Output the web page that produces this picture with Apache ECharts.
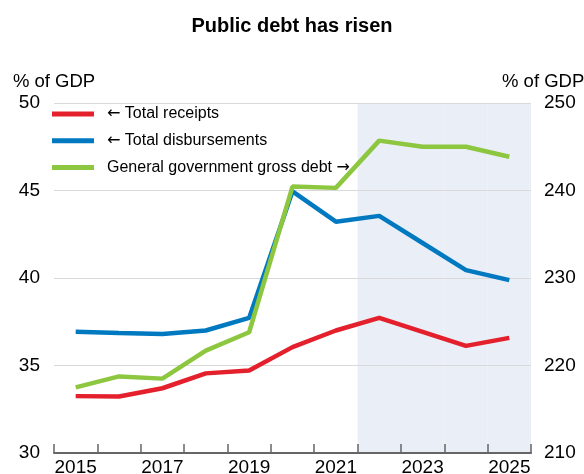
<!DOCTYPE html>
<html>
<head>
<meta charset="utf-8">
<script src="https://cdn.jsdelivr.net/npm/echarts@6/dist/echarts.min.js"></script>
<style>html,body{margin:0;padding:0;background:#fff}#c{width:584px;height:474px}</style>
</head>
<body>
<div id="c"></div>
<script>
const years = ['2015','2016','2017','2018','2019','2020','2021','2022','2023','2024','2025'];
const receipts = [33.25, 33.23, 33.7, 34.55, 34.72, 36.05, 37.0, 37.72, 36.92, 36.12, 36.58];
const disbursements = [36.93, 36.86, 36.8, 37.0, 37.72, 44.95, 43.22, 43.55, 42.0, 40.45, 39.88];
const grossDebt = [217.5, 218.75, 218.5, 221.7, 223.8, 240.45, 240.3, 245.7, 245.0, 245.0, 243.85];
const projectionYears = ['2022','2023','2024','2025'];
const shade = years.map(y => projectionYears.includes(y) ? 50 : null);
const font = 'Liberation Sans, Arial, sans-serif';

const chart = echarts.init(document.getElementById('c'));
chart.setOption({
  animation: false,
  title: {text: 'Public debt has risen', left: 'center', top: 11,
    textStyle: {fontFamily: font, fontSize: 20, fontWeight: 'bold', color: '#000'}},
  grid: {left: 54, right: 53, top: 103, bottom: 21, containLabel: false, outerBoundsMode: 'none'},
  legend: {
    orient: 'vertical', left: 47, top: 101, itemGap: 10.7, itemWidth: 42, itemHeight: 5,
    icon: 'rect',
    data: ['← Total receipts', '← Total disbursements', 'General government gross debt →'],
    formatter: function (n) { return n.replace(/([←→])/g, '{a|$1}'); },
    textStyle: {fontFamily: font, fontSize: 16, color: '#000', padding: [0, 0, 0, 8],
      rich: {a: {fontFamily: 'DejaVu Sans', fontSize: 16, color: '#000'}}}
  },
  xAxis: {
    type: 'category', data: years, boundaryGap: true,
    axisLine: {show: true, lineStyle: {color: '#666', width: 2}},
    axisTick: {show: true, inside: true, length: 9, interval: 0,
      lineStyle: {color: '#666', width: 1.5}},
    axisLabel: {interval: 1, fontFamily: font, fontSize: 19, color: '#000', margin: 5}
  },
  yAxis: [
    {type: 'value', min: 30, max: 50, interval: 5,
     name: '% of GDP', nameLocation: 'end', nameGap: 12,
     nameTextStyle: {fontFamily: font, fontSize: 18.5, color: '#000'},
     axisLine: {show: false}, axisTick: {show: false},
     axisLabel: {fontFamily: font, fontSize: 19, color: '#000', margin: 14},
     splitLine: {lineStyle: {color: '#d9d9d9', width: 1.2}}},
    {type: 'value', min: 210, max: 250, interval: 10,
     name: '% of GDP', nameLocation: 'end', nameGap: 12,
     nameTextStyle: {fontFamily: font, fontSize: 18.5, color: '#000', align: 'left', padding: [0, 0, 0, -29]},
     axisLine: {show: false}, axisTick: {show: false},
     axisLabel: {fontFamily: font, fontSize: 19, color: '#000', margin: 13},
     splitLine: {show: false}}
  ],
  series: [
    {name: 'shade', type: 'bar', data: shade, yAxisIndex: 0, z: -1, silent: true,
     barCategoryGap: '0%', barWidth: '100%',
     itemStyle: {color: '#eaeef6', borderColor: '#eaeef6', borderWidth: 1}},
    {name: '← Total receipts', type: 'line', data: receipts, yAxisIndex: 0, z: 3,
     symbol: 'none', lineStyle: {color: '#e3202b', width: 4.5}, itemStyle: {color: '#e3202b'}},
    {name: '← Total disbursements', type: 'line', data: disbursements, yAxisIndex: 0, z: 3,
     symbol: 'none', lineStyle: {color: '#0079c1', width: 4.5}, itemStyle: {color: '#0079c1'}},
    {name: 'General government gross debt →', type: 'line', data: grossDebt, yAxisIndex: 1, z: 4,
     symbol: 'none', lineStyle: {color: '#8dc63f', width: 4.5}, itemStyle: {color: '#8dc63f'}}
  ]
});
</script>
</body>
</html>
